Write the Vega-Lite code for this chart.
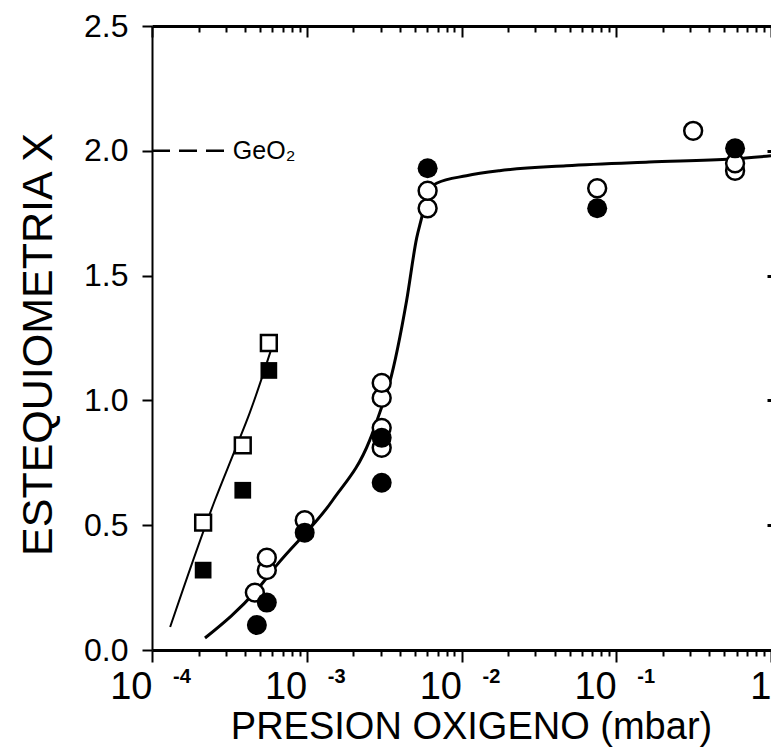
{
  "$schema": "https://vega.github.io/schema/vega-lite/v6.json",
  "autosize": "none",
  "padding": {"left": 152, "top": 26, "right": 0, "bottom": 99},
  "width": 619,
  "height": 624,
  "background": "white",
  "config": {
    "view": {"stroke": null},
    "font": "Liberation Sans",
    "axis": {
      "domainColor": "black",
      "tickColor": "black",
      "labelColor": "black",
      "titleColor": "black",
      "labelFont": "Liberation Sans",
      "titleFont": "Liberation Sans",
      "titleFontWeight": "normal",
      "grid": false
    }
  },
  "datasets": {
    "puntos": [
      {"p": 0.000214, "x": 0.51, "serie": "cuadrado abierto"},
      {"p": 0.000386, "x": 0.82, "serie": "cuadrado abierto"},
      {"p": 0.000569, "x": 1.23, "serie": "cuadrado abierto"},
      {"p": 0.000214, "x": 0.32, "serie": "cuadrado lleno"},
      {"p": 0.000386, "x": 0.64, "serie": "cuadrado lleno"},
      {"p": 0.000569, "x": 1.12, "serie": "cuadrado lleno"},
      {"p": 0.000462, "x": 0.23, "serie": "circulo abierto"},
      {"p": 0.000552, "x": 0.32, "serie": "circulo abierto"},
      {"p": 0.000552, "x": 0.37, "serie": "circulo abierto"},
      {"p": 0.00097, "x": 0.52, "serie": "circulo abierto"},
      {"p": 0.00305, "x": 0.81, "serie": "circulo abierto"},
      {"p": 0.00305, "x": 0.89, "serie": "circulo abierto"},
      {"p": 0.00305, "x": 1.01, "serie": "circulo abierto"},
      {"p": 0.00305, "x": 1.07, "serie": "circulo abierto"},
      {"p": 0.00604, "x": 1.77, "serie": "circulo abierto"},
      {"p": 0.00604, "x": 1.84, "serie": "circulo abierto"},
      {"p": 0.0753, "x": 1.85, "serie": "circulo abierto"},
      {"p": 0.314, "x": 2.08, "serie": "circulo abierto"},
      {"p": 0.586, "x": 1.92, "serie": "circulo abierto"},
      {"p": 0.586, "x": 1.95, "serie": "circulo abierto"},
      {"p": 0.000476, "x": 0.10, "serie": "circulo lleno"},
      {"p": 0.000552, "x": 0.19, "serie": "circulo lleno"},
      {"p": 0.00097, "x": 0.47, "serie": "circulo lleno"},
      {"p": 0.00305, "x": 0.67, "serie": "circulo lleno"},
      {"p": 0.00305, "x": 0.85, "serie": "circulo lleno"},
      {"p": 0.00604, "x": 1.93, "serie": "circulo lleno"},
      {"p": 0.0753, "x": 1.77, "serie": "circulo lleno"},
      {"p": 0.586, "x": 2.01, "serie": "circulo lleno"}
    ],
    "ajuste_circulos": [
      {"p": 0.00022, "x": 0.048},
      {"p": 0.000475, "x": 0.24},
      {"p": 0.00064, "x": 0.34},
      {"p": 0.00147, "x": 0.60},
      {"p": 0.00255, "x": 0.84},
      {"p": 0.00296, "x": 0.95},
      {"p": 0.00343, "x": 1.07},
      {"p": 0.00442, "x": 1.40},
      {"p": 0.00513, "x": 1.65},
      {"p": 0.00552, "x": 1.73},
      {"p": 0.00604, "x": 1.83},
      {"p": 0.0069, "x": 1.87},
      {"p": 0.01076, "x": 1.90},
      {"p": 0.01758, "x": 1.92},
      {"p": 0.0475, "x": 1.94},
      {"p": 0.163, "x": 1.955},
      {"p": 0.56, "x": 1.967},
      {"p": 1.0, "x": 1.98}
    ],
    "ajuste_cuadrados": [
      {"p": 0.000131, "x": 0.092},
      {"p": 0.000255, "x": 0.60},
      {"p": 0.000343, "x": 0.80},
      {"p": 0.000428, "x": 0.95},
      {"p": 0.000513, "x": 1.09},
      {"p": 0.000586, "x": 1.20}
    ],
    "geo2": [
      {"p": 0.0001, "x": 2.0},
      {"p": 0.000305, "x": 2.0}
    ],
    "exponentes": [
      {"p": 0.0001, "e": "-4"},
      {"p": 0.001, "e": "-3"},
      {"p": 0.01, "e": "-2"},
      {"p": 0.1, "e": "-1"}
    ]
  },
  "layer": [
    {
      "data": {"name": "ajuste_circulos"},
      "mark": {"type": "line", "color": "black", "strokeWidth": 3, "interpolate": "monotone"},
      "encoding": {
        "x": {
          "field": "p", "type": "quantitative",
          "scale": {"type": "log", "domain": [0.0001, 1], "nice": false},
          "axis": {
            "orient": "bottom",
            "values": [0.0001, 0.001, 0.01, 0.1, 1],
            "labelExpr": "datum.value == 1 ? '1' : '10'",
            "labelOverlap": false,
            "labelFlush": false,
            "labelAlign": "right",
            "labelBaseline": "top",
            "labelFontSize": 38,
            "labelPadding": 6,
            "domainWidth": 3,
            "tickWidth": 2,
            "tickSize": 12,
            "title": "PRESION  OXIGENO  (mbar)",
            "titleFontSize": 38,
            "titleAlign": "center",
            "titleBaseline": "alphabetic",
            "titleX": 319,
            "titleY": 88
          }
        },
        "y": {
          "field": "x", "type": "quantitative",
          "scale": {"domain": [0, 2.5], "nice": false, "zero": false},
          "axis": {
            "orient": "left",
            "values": [0, 0.5, 1, 1.5, 2, 2.5],
            "format": ".1f",
            "labelFontSize": 32,
            "labelPadding": 14,
            "labelBaseline": "middle",
            "tickSize": 10,
            "tickWidth": 2,
            "domainWidth": 2,
            "title": "ESTEQUIOMETRIA X",
            "titleFontSize": 43,
            "titleAlign": "center",
            "titleBaseline": "middle",
            "titleX": -114,
            "titleY": 318
          }
        }
      }
    },
    {
      "data": {"name": "ajuste_cuadrados"},
      "mark": {"type": "line", "color": "black", "strokeWidth": 2, "interpolate": "monotone"},
      "encoding": {
        "x": {
          "field": "p", "type": "quantitative",
          "axis": {
            "orient": "top",
            "values": [0.0001, 0.001, 0.01, 0.1, 1],
            "labels": false,
            "domainWidth": 3,
            "tickWidth": 2,
            "tickSize": -11,
            "title": null
          }
        },
        "y": {
          "field": "x", "type": "quantitative",
          "axis": {
            "orient": "right",
            "values": [0.5, 1, 1.5, 2],
            "labels": false,
            "domain": false,
            "tickSize": -4,
            "tickWidth": 3,
            "title": null
          }
        }
      }
    },
    {
      "data": {"name": "geo2"},
      "mark": {"type": "line", "color": "black", "strokeWidth": 2.5, "strokeDash": [18, 9]},
      "encoding": {
        "x": {
          "field": "p", "type": "quantitative",
          "axis": {
            "orient": "bottom",
            "values": [0.0002, 0.0003, 0.0004, 0.0005, 0.0006, 0.0007, 0.0008, 0.0009,
                       0.002, 0.003, 0.004, 0.005, 0.006, 0.007, 0.008, 0.009,
                       0.02, 0.03, 0.04, 0.05, 0.06, 0.07, 0.08, 0.09,
                       0.2, 0.3, 0.4, 0.5, 0.6, 0.7, 0.8, 0.9],
            "labels": false,
            "domain": false,
            "tickWidth": 2,
            "tickSize": 6,
            "title": null
          }
        },
        "y": {"field": "x", "type": "quantitative", "axis": null}
      }
    },
    {
      "data": {"values": [{"p": 0.000333, "x": 2.0, "t": "GeO₂"}]},
      "mark": {"type": "text", "align": "left", "baseline": "middle", "fontSize": 25, "font": "Liberation Sans", "color": "black"},
      "encoding": {
        "x": {
          "field": "p", "type": "quantitative",
          "axis": {
            "orient": "top",
            "values": [0.0002, 0.0003, 0.0004, 0.0005, 0.0006, 0.0007, 0.0008, 0.0009,
                       0.002, 0.003, 0.004, 0.005, 0.006, 0.007, 0.008, 0.009,
                       0.02, 0.03, 0.04, 0.05, 0.06, 0.07, 0.08, 0.09,
                       0.2, 0.3, 0.4, 0.5, 0.6, 0.7, 0.8, 0.9],
            "labels": false,
            "domain": false,
            "tickWidth": 2,
            "tickSize": -6,
            "title": null
          }
        },
        "y": {"field": "x", "type": "quantitative", "axis": null},
        "text": {"field": "t"}
      }
    },
    {
      "data": {"name": "exponentes"},
      "mark": {"type": "text", "align": "left", "baseline": "top", "dx": 21, "dy": 17, "fontSize": 20, "fontWeight": "bold", "font": "Liberation Sans", "color": "black"},
      "encoding": {
        "x": {"field": "p", "type": "quantitative", "axis": null},
        "y": {"datum": 0, "type": "quantitative", "axis": null},
        "text": {"field": "e"}
      }
    },
    {
      "data": {"name": "puntos"},
      "transform": [{"filter": "datum.serie == 'circulo abierto'"}],
      "mark": {"type": "point", "shape": "circle", "filled": false, "fill": "white", "fillOpacity": 1, "stroke": "black", "strokeWidth": 2.5, "opacity": 1, "size": 320},
      "encoding": {
        "x": {"field": "p", "type": "quantitative", "axis": null},
        "y": {"field": "x", "type": "quantitative", "axis": null}
      }
    },
    {
      "data": {"name": "puntos"},
      "transform": [{"filter": "datum.serie == 'circulo lleno'"}],
      "mark": {"type": "point", "shape": "circle", "filled": true, "fill": "black", "opacity": 1, "size": 400},
      "encoding": {
        "x": {"field": "p", "type": "quantitative", "axis": null},
        "y": {"field": "x", "type": "quantitative", "axis": null}
      }
    },
    {
      "data": {"name": "puntos"},
      "transform": [{"filter": "datum.serie == 'cuadrado abierto'"}],
      "mark": {"type": "point", "shape": "square", "filled": false, "fill": "white", "fillOpacity": 1, "stroke": "black", "strokeWidth": 2.5, "opacity": 1, "size": 250},
      "encoding": {
        "x": {"field": "p", "type": "quantitative", "axis": null},
        "y": {"field": "x", "type": "quantitative", "axis": null}
      }
    },
    {
      "data": {"name": "puntos"},
      "transform": [{"filter": "datum.serie == 'cuadrado lleno'"}],
      "mark": {"type": "point", "shape": "square", "filled": true, "fill": "black", "opacity": 1, "size": 280},
      "encoding": {
        "x": {"field": "p", "type": "quantitative", "axis": null},
        "y": {"field": "x", "type": "quantitative", "axis": null}
      }
    }
  ],
  "resolve": {"axis": {"x": "independent", "y": "independent"}}
}
